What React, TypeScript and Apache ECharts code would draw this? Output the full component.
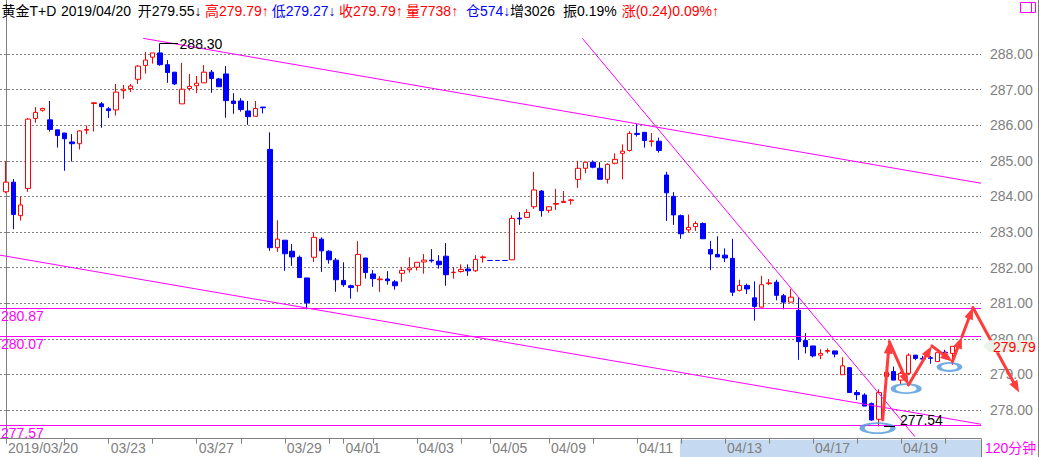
import React, { useEffect, useRef } from "react";
import * as echarts from "echarts";

// ---- data (120-minute bars, 黄金T+D) ----
const opens = [284.13,284.40,283.46,284.22,286.19,286.42,286.15,285.87,285.78,285.53,285.48,285.86,286.61,286.60,286.46,286.43,286.97,287.03,287.29,287.68,287.91,288.03,287.70,287.49,286.60,287.03,287.11,287.19,287.49,287.30,287.44,286.68,286.68,286.40,286.25,286.51,285.32,282.56,282.77,282.46,282.29,281.71,282.29,282.80,282.46,282.21,281.64,281.49,281.50,282.27,281.82,281.66,281.68,281.60,281.84,281.94,282.01,282.16,282.21,282.18,282.32,281.86,281.89,281.96,281.91,282.28,282.20,282.20,282.20,282.22,283.39,283.41,283.71,284.15,283.61,283.78,283.83,283.89,284.48,284.79,284.96,284.79,284.48,284.93,285.21,285.29,285.77,285.80,285.54,285.55,284.60,284.00,283.46,283.06,283.15,283.24,282.51,282.37,282.35,282.26,281.36,281.50,281.15,280.89,281.55,281.59,281.21,281.03,280.80,279.95,279.80,279.54,279.65,279.66,278.99,279.19,278.49,278.42,278.18,277.74,278.94,279.08,278.84,279.03,279.54,279.45,279.47,279.36,279.62,279.59];
const closes = [284.40,283.49,283.76,286.17,286.36,286.47,285.88,285.71,285.62,285.48,285.84,285.88,286.63,286.52,286.41,286.93,287.01,287.10,287.66,287.83,288.03,287.70,287.48,287.16,287.01,287.09,287.18,287.49,287.31,287.08,286.69,286.61,286.44,286.24,286.47,286.49,282.56,282.80,282.39,282.30,281.72,281.01,282.85,282.47,282.22,281.66,281.52,281.44,282.37,281.86,281.69,281.68,281.63,281.49,281.92,281.99,282.15,282.21,282.19,282.08,281.80,281.87,281.95,281.91,282.23,282.30,282.20,282.20,282.20,283.38,283.37,283.55,284.18,283.60,283.71,283.80,283.86,283.90,284.79,284.96,284.82,284.48,284.90,285.04,285.27,285.77,285.74,285.57,285.56,285.29,284.10,283.48,282.95,283.13,283.24,282.81,282.38,282.30,282.27,281.31,281.50,281.40,280.91,281.52,281.57,281.22,281.03,281.17,279.92,279.78,279.52,279.59,279.67,279.57,279.24,278.49,278.43,278.11,277.72,278.49,279.06,278.84,279.03,279.54,279.45,279.43,279.45,279.61,279.60,279.79];
const lows = [284.09,283.08,283.32,284.13,286.07,286.38,285.82,285.37,284.72,284.98,285.32,285.75,285.82,285.93,286.20,286.27,286.74,286.93,287.16,287.45,287.73,287.67,287.19,287.13,286.60,286.97,286.90,287.19,286.91,287.08,286.21,286.32,286.38,286.01,286.25,286.33,282.47,282.44,281.91,282.05,281.72,280.83,282.16,281.88,282.11,281.32,281.46,281.13,281.32,281.69,281.46,281.32,281.52,281.38,281.60,281.86,281.92,281.83,282.14,281.97,281.49,281.69,281.86,281.77,281.88,282.14,282.20,282.20,282.20,282.22,283.20,283.41,283.65,283.43,283.54,283.62,283.83,283.77,284.24,284.65,284.79,284.48,284.36,284.90,284.48,285.26,285.68,285.37,285.40,285.23,283.31,283.20,282.81,282.98,283.03,282.81,281.93,282.30,282.16,281.20,281.33,281.26,280.51,280.89,281.51,281.08,280.83,281.03,279.41,279.59,279.48,279.43,279.59,279.48,278.99,278.49,278.28,278.11,277.70,277.54,278.94,278.84,278.73,278.98,279.40,279.30,279.30,279.36,279.55,279.27];
const highs = [284.99,284.49,283.99,286.20,286.51,286.49,286.68,285.87,285.78,285.75,285.86,285.99,286.65,286.65,286.51,287.16,287.13,287.16,287.69,288.06,288.03,288.30,287.83,287.49,287.75,287.44,287.38,287.69,287.55,287.33,287.66,286.90,286.76,286.68,286.68,286.51,285.80,283.33,282.77,282.66,282.34,281.71,282.99,282.85,282.49,282.27,282.15,281.52,282.74,282.27,281.93,281.76,281.90,281.65,282.02,282.29,282.15,282.38,282.52,282.35,282.69,282.02,282.09,282.09,282.35,282.34,282.20,282.20,282.20,283.47,283.56,283.64,284.69,284.18,283.71,284.21,284.15,283.93,285.00,284.96,285.01,284.96,284.93,285.21,285.46,285.83,286.03,285.80,285.78,285.65,284.69,284.12,283.49,283.49,283.30,283.27,282.75,282.88,282.54,282.81,281.66,281.55,281.61,281.77,281.68,281.66,281.26,281.40,281.17,280.16,279.80,279.71,279.73,279.66,279.48,279.19,278.56,278.47,278.21,278.58,279.08,279.22,279.08,279.59,279.55,279.52,279.52,279.61,279.69,279.79];

const tickBars = [0,8,14,20,26,32,38,44,46,50,56,62,66,74,80,86,92,98,104,110,116,122,128];
const labelBars = [0,14,26,38,46,56,66,74,86,98,110,122];
const labelTexts = ["2019/03/20","03/23","03/27","03/29","04/01","04/03","04/05","04/09","04/11","04/13","04/17","04/19"];
const priceTicks = [278,279,280,281,282,283,284,285,286,287,288];
const levelLines = [280.87, 280.07, 277.57];

const upperChannel = [[18.7, 288.44], [132.9, 284.37]];
const lowerChannel = [[-0.82, 282.35], [132.9, 277.60]];
const steepLine = [[78.56, 288.44], [123.9, 277.25]];
const arrowPath = [[119.5, 277.72], [120.4, 279.92], [123.0, 278.70], [126.2, 279.80], [129.0, 279.36], [130.3, 280.06], [131.8, 280.88], [138.1, 278.49]];
const ellipseCenters = [[118.8, 277.49], [122.7, 278.60], [128.6, 279.21]];
const highMark = [21, 288.30];
const lowMark = [119, 277.54];
const lastPrice = 279.79;

const titleParts = [
  { text: "黄金T+D", color: "#000000" },
  { text: "2019/04/20", color: "#000000" },
  { text: "开279.55↓", color: "#000000" },
  { text: "高279.79↑", color: "#ff0000" },
  { text: "低279.27↓", color: "#0000ff" },
  { text: "收279.79↑", color: "#ff0000" },
  { text: "量7738↑", color: "#ff0000" },
  { text: "仓574↓", color: "#0000ff" },
  { text: "增3026", color: "#000000" },
  { text: "振0.19%", color: "#000000" },
  { text: "涨(0.24)0.09%↑", color: "#ff0000" },
];

const FONT = "'Liberation Sans', 'Noto Sans CJK SC', sans-serif";
const MAGENTA = "#ff00ff";
const GRAY = "#808080";

export default function App() {
  const ref = useRef<HTMLDivElement>(null);

  useEffect(() => {
    const el = ref.current!;
    const chart = echarts.init(el, null, { renderer: "svg" });

    const candleData = opens.map((o, i) => {
      const v = [i, o, closes[i], lows[i], highs[i]];
      const flat = o === closes[i] && lows[i] === highs[i];
      return flat
        ? { value: v, itemStyle: { color: "#0000ff", color0: "#0000ff", borderColor: "#0000ff", borderColor0: "#0000ff" } }
        : { value: v };
    });
    const ellipseSizes = [[31, 10], [26, 9], [21, 8]];

    const option: any = {
      animation: false,
      backgroundColor: "#ffffff",
      grid: { left: 0, right: 58, top: 0, bottom: 18.3, containLabel: false },
      xAxis: {
        type: "value",
        min: -0.818,
        max: 132.9,
        axisLine: { show: true, lineStyle: { color: GRAY, width: 1 } },
        axisTick: { show: true, customValues: tickBars, length: 5, lineStyle: { color: GRAY } },
        axisLabel: {
          customValues: labelBars,
          formatter: (v: number) => {
            const k = labelBars.indexOf(Math.round(v));
            return k >= 0 ? labelTexts[k] : "";
          },
          align: "left",
          color: GRAY,
          fontSize: 14,
          fontFamily: FONT,
          margin: 2,
          padding: [0, 0, 0, 2],
        },
        splitLine: { show: false },
      },
      yAxis: {
        type: "value",
        position: "right",
        min: 277.194,
        max: 289.517,
        scale: true,
        axisLine: { show: true, lineStyle: { color: GRAY, width: 1 } },
        axisTick: { show: true, customValues: priceTicks, length: 4, lineStyle: { color: GRAY } },
        axisLabel: {
          customValues: priceTicks,
          formatter: (v: number) => v.toFixed(2),
          color: GRAY,
          fontSize: 14,
          fontFamily: FONT,
          margin: 9,
        },
        splitLine: { show: true, lineStyle: { color: GRAY, type: [2, 2], width: 1 } },
      },
      series: [
        {
          type: "candlestick",
          data: candleData,
          barWidth: 5,
          itemStyle: {
            color: "#ffffff",
            color0: "#0000ff",
            borderColor: "#ff0000",
            borderColor0: "#0000ff",
            borderColorDoji: "#0000ff",
            borderWidth: 1,
          },
          markLine: {
            silent: true,
            symbol: ["none", "none"],
            lineStyle: { color: MAGENTA, type: "solid", width: 1 },
            label: {
              position: "insideStartBottom",
              formatter: (p: any) => Number(p.value).toFixed(2),
              color: MAGENTA,
              fontSize: 14,
              fontFamily: FONT,
              distance: [1, 1],
            },
            data: levelLines.map((v) => ({ yAxis: v })),
          },
          z: 2,
        },
        ...[upperChannel, lowerChannel, steepLine].map((d) => ({
          type: "line",
          data: d,
          symbol: "none",
          silent: true,
          lineStyle: { color: MAGENTA, width: 1 },
          z: 3,
        })),
        {
          type: "scatter",
          data: ellipseCenters,
          symbol: "circle",
          symbolSize: (_v: any, p: any) => ellipseSizes[p.dataIndex],
          itemStyle: { color: "rgba(0,0,0,0)", borderColor: "#4d96dc", borderWidth: 3 },
          silent: true,
          z: 6,
        },
      ],
    };

    chart.setOption(option);

    const px = (p: number[]) => chart.convertToPixel({ gridIndex: 0 } as any, p) as number[];
    const graphics: any[] = [];

    // title
    const titleX = [1.5, 61, 137.7, 205, 271.7, 339, 406, 466, 510, 563, 621.7];
    titleParts.forEach((t, i) => {
      graphics.push({
        type: "text",
        x: titleX[i],
        y: 11,
        z: 10,
        style: { text: t.text, fill: t.color, fontSize: 14, fontFamily: FONT, verticalAlign: "middle", align: "left" },
      });
    });

    // icon box top-right
    graphics.push({ type: "rect", z: 10, shape: { x: 1020.5, y: 2.5, width: 15, height: 10 }, style: { fill: "none", stroke: MAGENTA, lineWidth: 1 } });
    graphics.push({ type: "line", z: 10, shape: { x1: 1031.5, y1: 2.5, x2: 1031.5, y2: 12.5 }, style: { stroke: MAGENTA, lineWidth: 1 } });

    // right frame lines
    const axisX = Math.round(px([132.9, 280])[0]) + 0.5;
    const axisBottom = px([0, 277.194])[1];
    graphics.push({ type: "line", z: 10, shape: { x1: axisX, y1: axisBottom, x2: axisX, y2: 457 }, style: { stroke: GRAY, lineWidth: 1 } });
    graphics.push({ type: "line", z: 10, shape: { x1: 1038.5, y1: 0, x2: 1038.5, y2: 457 }, style: { stroke: GRAY, lineWidth: 1 } });

    // highlight strip under axis
    graphics.push({ type: "rect", z: -5, shape: { x: 680, y: axisBottom + 1, width: axisX - 680 - 0.5, height: 457 - axisBottom - 1 }, style: { fill: "#c5daf1" } });

    // 120分钟
    graphics.push({ type: "text", z: 10, x: 985, y: 448, style: { text: "120分钟", fill: MAGENTA, fontSize: 14, fontFamily: FONT, verticalAlign: "middle" } });

    // high annotation
    const hp = px(highMark);
    graphics.push({ type: "line", z: 8, shape: { x1: hp[0], y1: Math.round(hp[1]) + 0.5, x2: hp[0] + 18, y2: Math.round(hp[1]) + 0.5 }, style: { stroke: "#000000", lineWidth: 1 } });
    graphics.push({ type: "text", z: 8, x: hp[0] + 19.5, y: hp[1] + 0.5, style: { text: highMark[1].toFixed(2), fill: "#000000", fontSize: 14, fontFamily: FONT, verticalAlign: "middle" } });

    // low annotation
    const lp = px(lowMark);
    graphics.push({ type: "line", z: 8, shape: { x1: lp[0] + 5, y1: Math.round(lp[1]) + 0.5, x2: lp[0] + 16, y2: Math.round(lp[1]) + 0.5 }, style: { stroke: "#000000", lineWidth: 1 } });
    graphics.push({ type: "text", z: 8, x: lp[0] + 21, y: lp[1] + 0.5, style: { text: lowMark[1].toFixed(2), fill: "#000000", fontSize: 14, fontFamily: FONT, verticalAlign: "bottom" } });

    // red arrows
    const ARROW = "#ff3b3b";
    for (let i = 0; i < arrowPath.length - 1; i++) {
      const a = px(arrowPath[i]);
      const b = px(arrowPath[i + 1]);
      const dx = b[0] - a[0];
      const dy = b[1] - a[1];
      const len = Math.sqrt(dx * dx + dy * dy);
      const ux = dx / len;
      const uy = dy / len;
      const hl = 12;
      const hw = 4.5;
      const bx = b[0] - ux * hl;
      const by = b[1] - uy * hl;
      graphics.push({ type: "line", z: 9, shape: { x1: a[0], y1: a[1], x2: bx + ux * 2, y2: by + uy * 2 }, style: { stroke: ARROW, lineWidth: 3, lineCap: "round" } });
      graphics.push({
        type: "polygon",
        z: 9,
        shape: { points: [[b[0], b[1]], [bx - uy * hw, by + ux * hw], [bx + uy * hw, by - ux * hw]] },
        style: { fill: ARROW },
      });
    }

    // last price tag
    const ly = px([0, lastPrice])[1];
    graphics.push({
      type: "polygon",
      z: 11,
      shape: { points: [[axisX + 1.5, ly], [axisX + 8, ly - 6], [1035, ly - 6], [1035, ly + 6], [axisX + 8, ly + 6]] },
      style: { fill: "#eaf3ea" },
    });
    graphics.push({ type: "text", z: 12, x: axisX + 11.5, y: ly + 0.5, style: { text: lastPrice.toFixed(2), fill: "#ff0000", fontSize: 14, fontFamily: FONT, verticalAlign: "middle" } });

    chart.setOption({ graphic: graphics });

    return () => chart.dispose();
  }, []);

  return <div ref={ref} style={{ position: "fixed", left: 0, top: 0, width: 1039, height: 457, background: "#ffffff" }} />;
}
